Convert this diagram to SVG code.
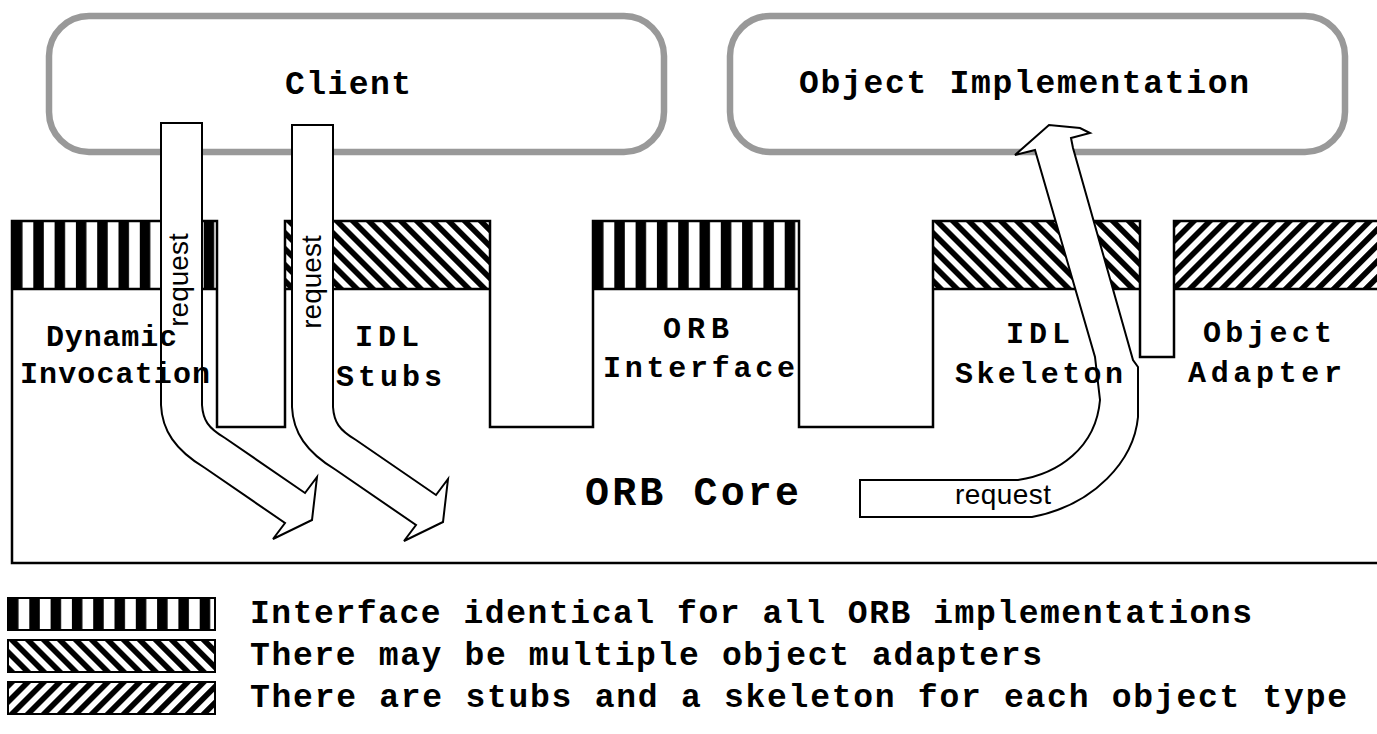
<svg xmlns="http://www.w3.org/2000/svg" width="1377" height="734" viewBox="0 0 1377 734">
<style>
.box{fill:#fff;stroke:#999;stroke-width:6.5}
.ol{fill:none;stroke:#000;stroke-width:2.5}
.arr{fill:#fff;stroke:#000;stroke-width:2;stroke-linejoin:miter}
.m{font-family:"Liberation Mono","DejaVu Sans Mono",monospace;font-weight:bold;fill:#000}
.l{font-size:30px}
.b{font-size:33px}
.c{font-size:40px}
.r{font-family:"Liberation Sans",Arial,sans-serif;font-size:28px;fill:#000}
.sw{stroke:#000;stroke-width:2}
</style>
<defs>
<pattern id="vs" patternUnits="userSpaceOnUse" width="21.3" height="10"><rect width="21.3" height="10" fill="#fff"/><rect width="10.5" height="10" fill="#000"/></pattern>
<pattern id="bs" patternUnits="userSpaceOnUse" width="11.3" height="11.3" patternTransform="rotate(-45)"><rect width="11.3" height="11.3" fill="#fff"/><rect width="5.6" height="11.3" fill="#000"/></pattern>
<pattern id="fs" patternUnits="userSpaceOnUse" width="11.3" height="11.3" patternTransform="rotate(45)"><rect width="11.3" height="11.3" fill="#fff"/><rect width="5.6" height="11.3" fill="#000"/></pattern>
</defs>
<rect width="1377" height="734" fill="#fff"/>

<g id="client">
<rect class="box" x="49" y="16" width="615" height="136" rx="40" ry="40"/>
</g>
<g id="object-implementation">
<rect class="box" x="730" y="16" width="615" height="136" rx="40" ry="40"/>
</g>

<g id="orb-core">
<g transform="translate(12,221)"><rect width="205" height="68" fill="url(#vs)"/></g>
<g transform="translate(285,221)"><rect width="205" height="68" fill="url(#bs)"/></g>
<g transform="translate(593,221)"><rect width="206" height="68" fill="url(#vs)"/></g>
<g transform="translate(933,221)"><rect width="207" height="68" fill="url(#bs)"/></g>
<g transform="translate(1174,221)"><rect width="210" height="68" fill="url(#fs)"/></g>
<polygon class="ol" points="12,221 217,221 217,427 285,427 285,221 490,221 490,427 593,427 593,221 799,221 799,427 933,427 933,221 1140,221 1140,357 1174,357 1174,221 1390,221 1390,563 12,563"/>
<path class="ol" d="M12,289H217M285,289H490M593,289H799M933,289H1140M1174,289H1390"/>
</g>

<g id="connectors">
<path id="req1" class="arr" d="M161,123 H202 V405 C203,420 208,428 225,438 L305,493 L317,477 L312,520 L273,539 L285,523 L205,468 C175,450 162,430 161,405 Z"/>
<path id="req2" class="arr" transform="translate(131,2)" d="M161,123 H202 V405 C203,420 208,428 225,438 L305,493 L317,477 L312,520 L273,539 L285,523 L205,468 C175,450 162,430 161,405 Z"/>
<path id="req3" class="arr" d="M860,480 H1018 C1058,474 1096,448 1100,400 L1095,357 L1035,150 L1015,155 L1049,125 L1080,128 L1090,133 L1071,138 L1073,148 L1133,360 L1138,367 L1138,417 C1134,460 1095,505 1032,517 H860 Z"/>
<text class="r" text-anchor="middle" transform="translate(188,280) rotate(-90)">request</text>
<text class="r" text-anchor="middle" transform="translate(321,282) rotate(-90)">request</text>
<text class="r" x="955" y="504" textLength="96" lengthAdjust="spacing">request</text>
</g>

<g id="labels">
<text class="m b" x="285" y="94" textLength="126" lengthAdjust="spacing">Client</text>
<text class="m b" x="799" y="93" textLength="450" lengthAdjust="spacing">Object Implementation</text>
<text class="m l" x="46" y="346" textLength="131" lengthAdjust="spacing">Dynamic</text>
<text class="m l" x="20" y="383" textLength="190" lengthAdjust="spacing">Invocation</text>
<text class="m l" x="355" y="346" textLength="64" lengthAdjust="spacing">IDL</text>
<text class="m l" x="336" y="386" textLength="106" lengthAdjust="spacing">Stubs</text>
<text class="m l" x="663" y="338" textLength="66" lengthAdjust="spacing">ORB</text>
<text class="m l" x="603" y="377" textLength="192" lengthAdjust="spacing">Interface</text>
<text class="m l" x="1006" y="343" textLength="64" lengthAdjust="spacing">IDL</text>
<text class="m l" x="955" y="383" textLength="168" lengthAdjust="spacing">Skeleton</text>
<text class="m l" x="1203" y="342" textLength="129" lengthAdjust="spacing">Object</text>
<text class="m l" x="1188" y="382" textLength="154" lengthAdjust="spacing">Adapter</text>
<text class="m c" x="585" y="505" textLength="214" lengthAdjust="spacing">ORB Core</text>
</g>

<g id="legend">
<g transform="translate(8,598)"><rect class="sw" width="207" height="32" fill="url(#vs)"/></g>
<g transform="translate(8,640)"><rect class="sw" width="207" height="32" fill="url(#bs)"/></g>
<g transform="translate(8,682)"><rect class="sw" width="207" height="32" fill="url(#fs)"/></g>
<text class="m b" x="250" y="623" textLength="1002" lengthAdjust="spacing">Interface identical for all ORB implementations</text>
<text class="m b" x="250" y="665" textLength="792" lengthAdjust="spacing">There may be multiple object adapters</text>
<text class="m b" x="250" y="707" textLength="1097" lengthAdjust="spacing">There are stubs and a skeleton for each object type</text>
</g>
</svg>
